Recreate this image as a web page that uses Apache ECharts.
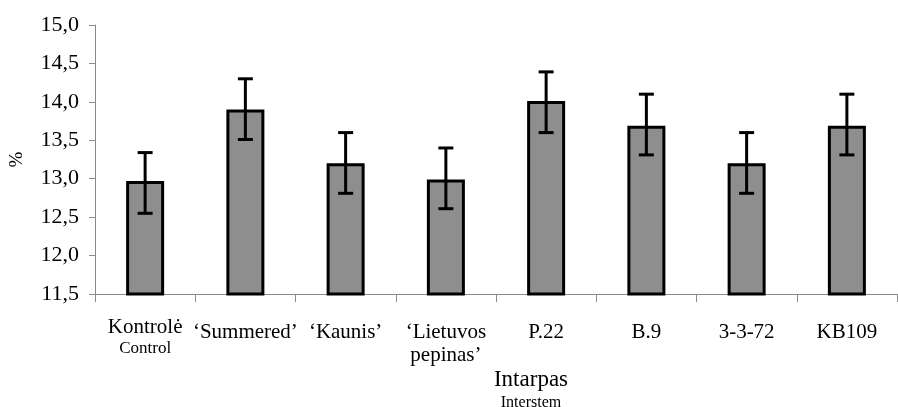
<!DOCTYPE html>
<html>
<head>
<meta charset="utf-8">
<script src="https://cdn.jsdelivr.net/npm/echarts@6/dist/echarts.min.js"></script>
<style>
html,body{margin:0;padding:0;background:#fff;}
#c{width:898px;height:407px;}
</style>
</head>
<body>
<div id="c"></div>
<script>
var categories = ['Kontrolė', '‘Summered’', '‘Kaunis’', '‘Lietuvos pepinas’', 'P.22', 'B.9', '3-3-72', 'KB109'];
var catLines = [['Kontrolė'], ['‘Summered’'], ['‘Kaunis’'], ['‘Lietuvos', 'pepinas’'], ['P.22'], ['B.9'], ['3-3-72'], ['KB109']];
var catSub = ['Control', '', '', '', '', '', '', ''];
var means = [12.97, 13.90, 13.20, 12.99, 14.01, 13.69, 13.20, 13.69];
var errLow = [12.55, 13.51, 12.81, 12.61, 13.60, 13.31, 12.81, 13.31];
var errHigh = [13.34, 14.30, 13.60, 13.40, 14.39, 14.10, 13.60, 14.10];
var yTicks = { min: 11.5, max: 15.0, interval: 0.5 };
var xTitle = 'Intarpas';
var xSubtitle = 'Interstem';
var yName = '%';

var serif = 'Liberation Serif, Times New Roman, serif';
var chart = echarts.init(document.getElementById('c'));

var errData = categories.map(function (c, i) { return [i, errLow[i], errHigh[i]]; });

chart.setOption({
  animation: false,
  grid: { left: 95, right: 1, top: 25, bottom: 113, containLabel: false, outerBoundsMode: 'none' },
  xAxis: {
    type: 'category',
    data: categories,
    boundaryGap: true,
    axisLine: { show: true, lineStyle: { color: '#8a8a8a', width: 1 } },
    axisTick: { show: true, interval: 0, length: 8, lineStyle: { color: '#8a8a8a' } },
    axisLabel: {
      interval: 0,
      margin: 22,
      color: '#000',
      fontFamily: serif,
      formatter: function (v, i) {
        var lines = catLines[i];
        var out;
        if (lines.length === 1 && !catSub[i]) {
          out = '{b|' + lines[0] + '}';
        } else {
          out = lines.map(function (l) { return '{a|' + l + '}'; }).join('\n');
          if (lines.length > 1) out = '{p|}\n' + out;
          if (catSub[i]) out += '\n{s|' + catSub[i] + '}';
        }
        return out;
      },
      rich: {
        a: { fontFamily: serif, fontSize: 21, lineHeight: 23, color: '#000' },
        b: { fontFamily: serif, fontSize: 21, lineHeight: 23, color: '#000', padding: [9, 0, 0, 0] },
        p: { fontSize: 1, lineHeight: 5 },
        s: { fontFamily: serif, fontSize: 17, lineHeight: 19, color: '#000' }
      }
    }
  },
  yAxis: {
    type: 'value',
    min: yTicks.min,
    max: yTicks.max,
    interval: yTicks.interval,
    name: yName,
    nameLocation: 'middle',
    nameRotate: 90,
    nameGap: 68,
    nameTextStyle: { fontFamily: serif, fontSize: 19, color: '#000' },
    axisLine: { show: true, lineStyle: { color: '#8a8a8a', width: 1 } },
    axisTick: { show: true, length: 6, lineStyle: { color: '#8a8a8a' } },
    splitLine: { show: false },
    axisLabel: {
      margin: 16,
      color: '#000',
      fontFamily: serif,
      fontSize: 22,
      formatter: function (v) { return v.toFixed(1).replace('.', ','); }
    }
  },
  series: [
    {
      type: 'bar',
      data: means,
      barWidth: 38,
      itemStyle: { color: '#8e8e8e', borderColor: '#000', borderWidth: 3 },
      z: 2
    },
    {
      type: 'custom',
      data: errData,
      z: 5,
      renderItem: function (params, api) {
        var x = api.value(0);
        var lo = api.coord([x, api.value(1)]);
        var hi = api.coord([x, api.value(2)]);
        var hw = 7.5;
        var st = { stroke: '#000', lineWidth: 3 };
        return {
          type: 'group',
          children: [
            { type: 'line', shape: { x1: lo[0], y1: lo[1], x2: hi[0], y2: hi[1] }, style: st },
            { type: 'line', shape: { x1: hi[0] - hw, y1: hi[1], x2: hi[0] + hw, y2: hi[1] }, style: st },
            { type: 'line', shape: { x1: lo[0] - hw, y1: lo[1], x2: lo[0] + hw, y2: lo[1] }, style: st }
          ]
        };
      }
    }
  ],
  graphic: [
    { type: 'text', x: 531, y: 380, style: { text: xTitle, font: '23px ' + serif, fill: '#000', textAlign: 'center', textVerticalAlign: 'middle' } },
    { type: 'text', x: 531, y: 403, style: { text: xSubtitle, font: '16px ' + serif, fill: '#000', textAlign: 'center', textVerticalAlign: 'middle' } }
  ]
});
</script>
</body>
</html>
